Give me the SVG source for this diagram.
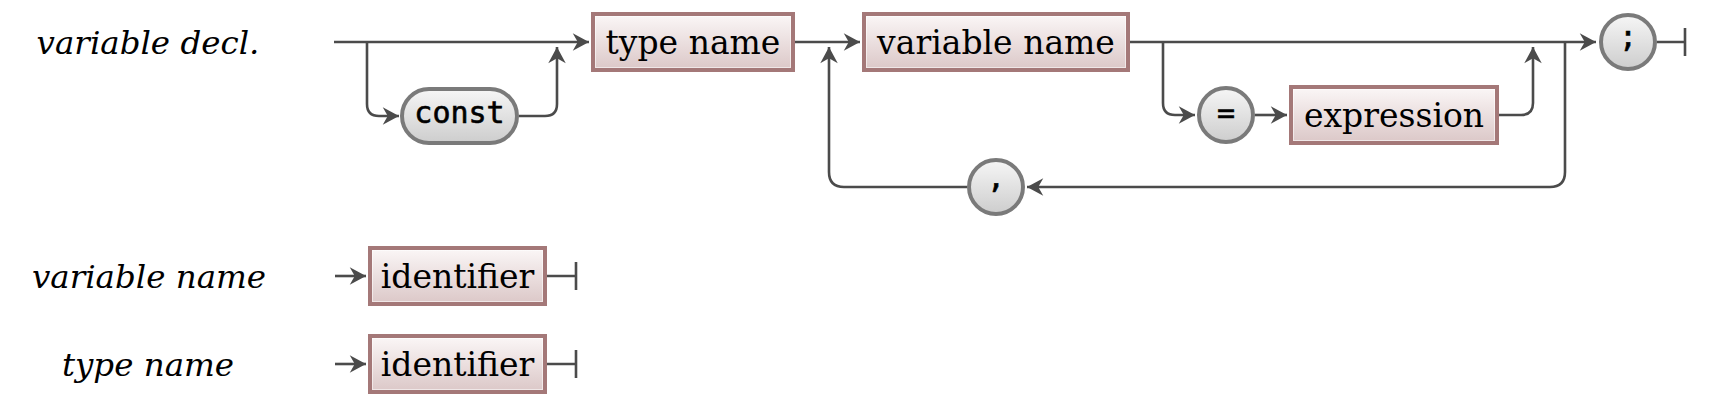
<svg xmlns="http://www.w3.org/2000/svg" width="1723" height="410" viewBox="0 0 1723 410">
  <defs>
    <linearGradient id="gBox" x1="0" y1="0" x2="0" y2="1">
      <stop offset="0" stop-color="#fbf7f7"/>
      <stop offset="1" stop-color="#dbc7c7"/>
    </linearGradient>
    <linearGradient id="gTerm" x1="0" y1="0" x2="0" y2="1">
      <stop offset="0" stop-color="#f6f6f6"/>
      <stop offset="1" stop-color="#cdcdcd"/>
    </linearGradient>
    <marker id="arr" markerUnits="userSpaceOnUse" markerWidth="20" markerHeight="20" viewBox="-14 -8 16 16" refX="0" refY="0" orient="auto">
      <path d="M-13,-7 L0,0 L-13,7 L-9,0 Z" fill="#4b4b4b"/>
    </marker>
    <style>
      .bg { fill: #ffffff; }
      .lbl { font-family: "DejaVu Serif", "Liberation Serif", serif; font-style: italic; font-size: 32.5px; fill: #000; text-anchor: middle; }
      .box { fill: url(#gBox); stroke: #a47878; stroke-width: 4; }
      .boxin { fill: none; stroke: #ffffff; stroke-opacity: 0.55; stroke-width: 1; }
      .nt { font-family: "DejaVu Serif", "Liberation Serif", serif; font-size: 33px; fill: #000; text-anchor: middle; }
      .term { fill: url(#gTerm); stroke: #7a7a7a; stroke-width: 4; }
      .tt { font-family: "DejaVu Sans Mono", "Liberation Mono", monospace; font-size: 30px; fill: #000; stroke: #000; stroke-width: 0.6; text-anchor: middle; }
      .ln { fill: none; stroke: #4b4b4b; stroke-width: 2.6; }
      .arrow { marker-end: url(#arr); }
    </style>
  </defs>
  <rect class="bg" x="0" y="0" width="1723" height="410"/>

  <!-- rule labels -->
  <g id="label-variable-decl"><text class="lbl" x="148" y="54">variable decl.</text></g>
  <g id="label-variable-name"><text class="lbl" x="149" y="288">variable name</text></g>
  <g id="label-type-name"><text class="lbl" x="148" y="376">type name</text></g>

  <!-- connectors -->
  <g id="connectors">
    <path class="ln arrow" d="M334,42 H589"/>
    <path class="ln arrow" d="M367,42 V104 Q367,116 379,116 H399"/>
    <path class="ln arrow" d="M519,116 H545 Q557,116 557,104 V47"/>
    <path class="ln arrow" d="M795,42 H860"/>
    <path class="ln arrow" d="M1130,42 H1596"/>
    <path class="ln arrow" d="M1163,42 V103 Q1163,115 1175,115 H1195"/>
    <path class="ln arrow" d="M1255,115 H1287"/>
    <path class="ln arrow" d="M1499,115 H1521 Q1533,115 1533,103 V47"/>
    <path class="ln arrow" d="M1565,42 V172 Q1565,187 1550,187 H1027"/>
    <path class="ln arrow" d="M967,187 H844 Q829,187 829,172 V47"/>
    <path class="ln" d="M1657,42 H1685 M1685,28 V56"/>
    <path class="ln arrow" d="M335,276 H366"/>
    <path class="ln" d="M547,276 H576 M576,262 V290"/>
    <path class="ln arrow" d="M335,364 H366"/>
    <path class="ln" d="M547,364 H576 M576,350 V378"/>
  </g>

  <!-- nodes -->
  <g id="node-const">
    <rect class="term" x="402" y="89" width="115" height="54" rx="27" ry="27"/>
    <text class="tt" x="459.5" y="123">const</text>
  </g>
  <g id="node-type-name">
    <rect class="box" x="593" y="14" width="200" height="56"/>
    <rect class="boxin" x="595.5" y="16.5" width="195" height="51"/>
    <text class="nt" x="693" y="54">type name</text>
  </g>
  <g id="node-variable-name">
    <rect class="box" x="864" y="14" width="264" height="56"/>
    <rect class="boxin" x="866.5" y="16.5" width="259" height="51"/>
    <text class="nt" x="996" y="54">variable name</text>
  </g>
  <g id="node-equals">
    <circle class="term" cx="1226" cy="115" r="27"/>
    <text class="tt" x="1226" y="123">=</text>
  </g>
  <g id="node-expression">
    <rect class="box" x="1291" y="87" width="206" height="56"/>
    <rect class="boxin" x="1293.5" y="89.5" width="201" height="51"/>
    <text class="nt" x="1394" y="127">expression</text>
  </g>
  <g id="node-comma">
    <circle class="term" cx="996" cy="187" r="27"/>
    <text class="tt" x="996" y="188">,</text>
  </g>
  <g id="node-semicolon">
    <circle class="term" cx="1628" cy="42" r="27"/>
    <text class="tt" x="1628" y="47">;</text>
  </g>
  <g id="node-identifier-1">
    <rect class="box" x="370" y="248" width="175" height="56"/>
    <rect class="boxin" x="372.5" y="250.5" width="170" height="51"/>
    <text class="nt" x="457.5" y="288">identifier</text>
  </g>
  <g id="node-identifier-2">
    <rect class="box" x="370" y="336" width="175" height="56"/>
    <rect class="boxin" x="372.5" y="338.5" width="170" height="51"/>
    <text class="nt" x="457.5" y="376">identifier</text>
  </g>
</svg>
